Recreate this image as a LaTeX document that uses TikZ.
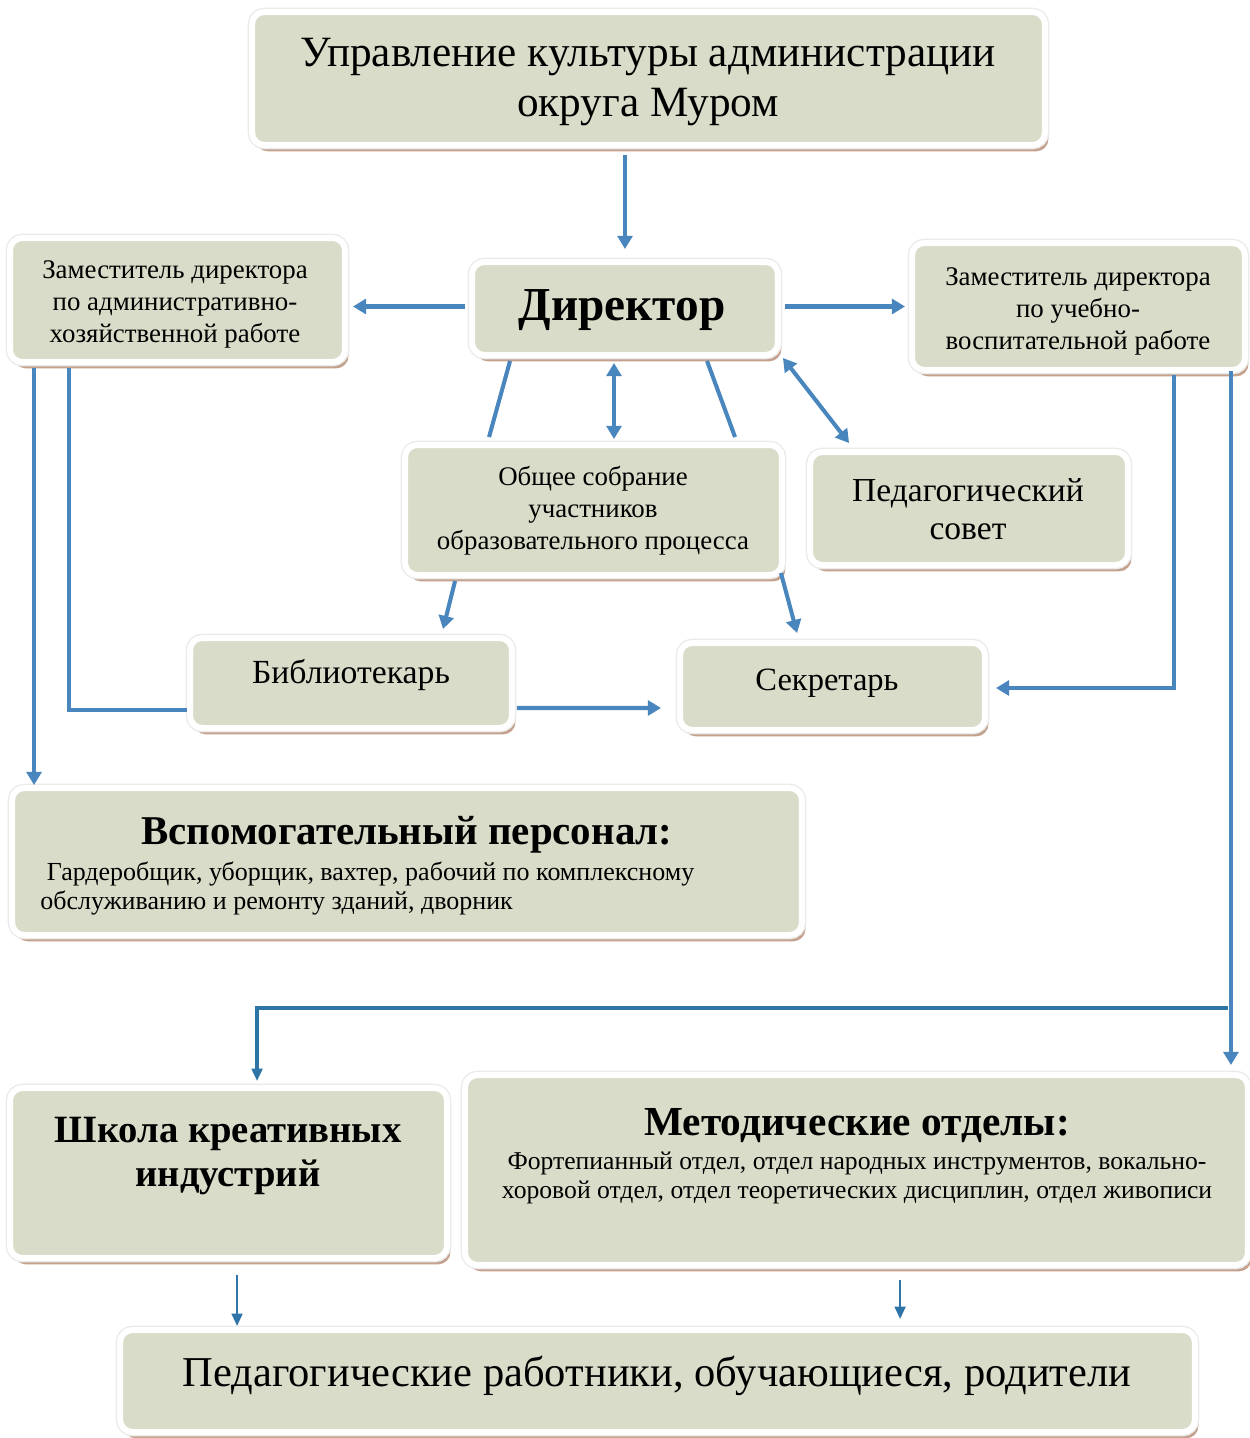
\documentclass[tikz,border=0pt]{standalone}
\usepackage{fontspec}
\setmainfont{Liberation Serif}
\usetikzlibrary{calc,shadows,arrows.meta}
\definecolor{boxfill}{HTML}{D9DCC8}
\definecolor{shadowc}{HTML}{C4A18D}
\definecolor{arrowc}{HTML}{4A86BE}
\definecolor{arrowd}{HTML}{2F74A6}
\tikzset{
  box/.style={rounded corners=7pt, fill=boxfill, draw=white, line width=3.4pt, inner sep=0pt,
    drop shadow={shadow xshift=2pt, shadow yshift=-3.6pt, fill=shadowc, opacity=1},
    preaction={draw=black!8, line width=5pt}},
  txt/.style={align=center, inner sep=0pt, text=black},
  ln/.style={draw=arrowc, line width=2.3pt},
  arr/.style={ln, -{Triangle[length=7.5pt,width=8.5pt]}},
  dbl/.style={ln, {Triangle[length=7.5pt,width=8.5pt]}-{Triangle[length=7.5pt,width=8.5pt]}},
  arrT/.style={draw=arrowd, line width=1.5pt, -{Triangle[length=7pt,width=6pt]}},
}
\begin{document}
\begin{tikzpicture}[x=0.02cm,y=-0.02cm]
\useasboundingbox (0,0) rectangle (1250,1438);
\fill[white] (0,0) rectangle (1250,1438);

% boxes
\node[box, minimum width=15.86cm, minimum height=2.66cm] (top) at (648.5,78.5) {};
\node[box, minimum width=6.12cm, minimum height=1.86cm] (dir) at (625,308.5) {};
\node[box, minimum width=6.70cm, minimum height=2.48cm] (ldep) at (177.5,300) {};
\node[box, minimum width=6.66cm, minimum height=2.54cm] (rdep) at (1078.5,306.5) {};
\node[box, minimum width=7.54cm, minimum height=2.60cm] (gen) at (593.5,510) {};
\node[box, minimum width=6.36cm, minimum height=2.26cm] (ped) at (969,508.5) {};
\node[box, minimum width=6.44cm, minimum height=1.80cm] (lib) at (351,683) {};
\node[box, minimum width=6.10cm, minimum height=1.74cm] (sec) at (832.5,686.5) {};
\node[box, minimum width=15.80cm, minimum height=2.94cm] (aux) at (407,861.5) {};
\node[box, minimum width=8.74cm, minimum height=3.40cm] (sch) at (228.5,1173) {};
\node[box, minimum width=15.66cm, minimum height=3.80cm] (met) at (856.5,1170) {};
\node[box, minimum width=21.50cm, minimum height=2.04cm] (bot) at (657.5,1381) {};

% texts
\node[txt, font=\fontsize{24.6}{29}\selectfont] (topT) at (648,82) {Управление культуры администрации\\округа Муром};
\node[txt, font=\fontsize{26.9}{30}\selectfont\bfseries] (dirT) at (622,310) {Директор};
\node[txt, font=\fontsize{15.3}{18.2}\selectfont] (ldepT) at (175,304) {Заместитель директора\\по административно-\\хозяйственной работе};
\node[txt, font=\fontsize{15.3}{18.2}\selectfont] (rdepT) at (1078,311) {Заместитель директора\\по учебно-\\воспитательной работе};
\node[txt, font=\fontsize{15.3}{18.2}\selectfont] (genT) at (593,511) {Общее собрание\\участников\\образовательного процесса};
\node[txt, font=\fontsize{19.1}{22}\selectfont] (pedT) at (968,509) {Педагогический\\совет};
\node[txt, font=\fontsize{19.2}{22}\selectfont] (libT) at (351,675) {Библиотекарь};
\node[txt, font=\fontsize{18.5}{22}\selectfont] (secT) at (827,683) {Секретарь};
\node[txt, font=\fontsize{23.3}{27}\selectfont\bfseries] (auxT) at (407,835) {Вспомогательный персонал:};
\node[txt, anchor=west, align=left, font=\fontsize{14.8}{16.5}\selectfont] (auxB) at (40,888) {\hspace{0.25em}Гардеробщик, уборщик, вахтер, рабочий по комплексному\\обслуживанию и ремонту зданий, дворник};
\node[txt, font=\fontsize{22}{25.5}\selectfont\bfseries] (schT) at (228,1156) {Школа креативных\\индустрий};
\node[txt, font=\fontsize{23.5}{27}\selectfont\bfseries] (metT) at (857,1126) {Методические отделы:};
\node[txt, font=\fontsize{14.6}{16.5}\selectfont] (metB) at (857,1178) {Фортепианный отдел, отдел народных инструментов, вокально-\\хоровой отдел, отдел теоретических дисциплин, отдел живописи};
\node[txt, font=\fontsize{24.2}{28}\selectfont] (botT) at (657,1376) {Педагогические работники, обучающиеся, родители};

% connectors
\draw[arr] ($(top.south -| dir.north)+(0,7)$) -- ($(dir.north)+(0,-10)$);
\draw[arr] ($(dir.west)+(-4,-2)$) -- ($(dir.west -| ldep.east)+(5,-2)$);
\draw[arr] ($(dir.east)+(4,-2)$) -- ($(dir.east -| rdep.west)+(-4,-2)$);
\draw[ln] ($(dir.south west)+(41,3)$) -- ($(gen.north west)+(87,-5)$);
\draw[dbl] ($(dir.south)+(-11,5)$) -- ($(dir.south |- gen.north)+(-11,-3)$);
\draw[ln] ($(dir.south west)+(238,3)$) -- ($(gen.north west)+(333,-5)$);
\draw[dbl] ($(dir.south east)+(2,0)$) -- ($(ped.north west)+(42,-6)$);
\draw[arr] ($(gen.south west)+(53,3)$) -- ($(lib.north west)+(256,-6)$);
\draw[arr] ($(gen.south east)+(-4,-5)$) -- ($(sec.north west)+(120,-7)$);
\draw[arr] ($(ldep.south west)+(27,3)$) -- ($(ldep.south west |- aux.north)+(27,0)$);
\draw[ln] ($(ldep.south west)+(62,3)$) |- ($(lib.west)+(0,27)$);
\draw[arr] ($(lib.east)+(2,25)$) -- ($(sec.west)+(-16,21.5)$);
\draw[arr] ($(rdep.south west)+(265,2)$) |- ($(sec.east)+(8,1.5)$);
\draw[arr] ($(rdep.south east)+(-17,-2)$) -- ($(rdep.south east |- met.north)+(-17,-7)$);
\coordinate (br) at (1228,1008);
\draw[arrT, line width=1.9pt] (br) -| ($(sch.north west)+(250,-4)$);
\draw[arrT] ($(sch.south west)+(230,14)$) -- ($(sch.south west |- bot.north)+(230,-1)$);
\draw[arrT] ($(met.south west)+(438,12)$) -- ($(met.south west |- bot.north)+(438,-8)$);
\end{tikzpicture}
\end{document}
